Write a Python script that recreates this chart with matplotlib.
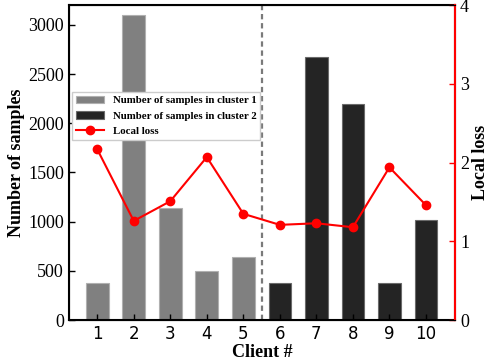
import matplotlib
matplotlib.use("Agg")
import matplotlib.pyplot as plt
import numpy as np

clients = [1, 2, 3, 4, 5, 6, 7, 8, 9, 10]
samples_c1 = [380, 3100, 1140, 500, 640]
samples_c2 = [380, 2675, 2195, 380, 1015]
local_loss = [2.17, 1.26, 1.51, 2.07, 1.35, 1.21, 1.23, 1.18, 1.94, 1.46]

serif = "Liberation Serif"

fig, ax = plt.subplots(figsize=(4.91, 3.63), dpi=100)
fig.subplots_adjust(left=0.14, right=0.927, top=0.986, bottom=0.118)

b1 = ax.bar(clients[:5], samples_c1, width=0.62, color="#808080", edgecolor="#b0b0b0",
            linewidth=0.8, label="Number of samples in cluster 1")
b2 = ax.bar(clients[5:], samples_c2, width=0.62, color="#242424", edgecolor="#6a6a6a",
            linewidth=0.8, label="Number of samples in cluster 2")
ax.axvline(5.5, color="#7a7a7a", linestyle=(0, (2.4, 1.7)), linewidth=1.6)

ax.set_xlim(0.22, 10.8)
ax.set_ylim(0, 3200)
ax.set_xticks(clients)
ax.set_xticklabels([str(c) for c in clients], fontsize=12, family="DejaVu Sans")
ax.set_yticks([0, 500, 1000, 1500, 2000, 2500, 3000])
for t in ax.get_yticklabels():
    t.set_family(serif)
    t.set_fontsize(13)
ax.tick_params(direction="in", length=4, width=1)
ax.set_xlabel("Client #", family=serif, fontweight="bold", fontsize=13, labelpad=1)
ax.set_ylabel("Number of samples", family=serif, fontweight="bold", fontsize=13, labelpad=2)
for s in ax.spines.values():
    s.set_linewidth(1.5)

ax2 = ax.twinx()
l1, = ax2.plot(clients, local_loss, color="red", marker="o", markersize=6, linewidth=1.5, label="Local loss")
ax2.set_ylim(0, 4)
ax2.set_yticks([0, 1, 2, 3, 4])
for t in ax2.get_yticklabels():
    t.set_family(serif)
    t.set_fontsize(13)
ax2.tick_params(direction="in", length=4, width=1, color="red")
ax2.spines["right"].set_color("red")
ax2.spines["right"].set_linewidth(1.5)
ax2.set_ylabel("Local loss", family=serif, fontweight="bold", fontsize=13, labelpad=2)

leg = ax.legend(handles=[b1, b2, l1], loc="upper left", bbox_to_anchor=(0.0, 0.735),
                prop={"family": serif, "weight": "bold", "size": 7.8},
                fancybox=False, edgecolor="#cccccc", framealpha=1, borderaxespad=0.3,
                handlelength=2.6, labelspacing=0.55, borderpad=0.35)

fig.savefig("out.png", dpi=100)
